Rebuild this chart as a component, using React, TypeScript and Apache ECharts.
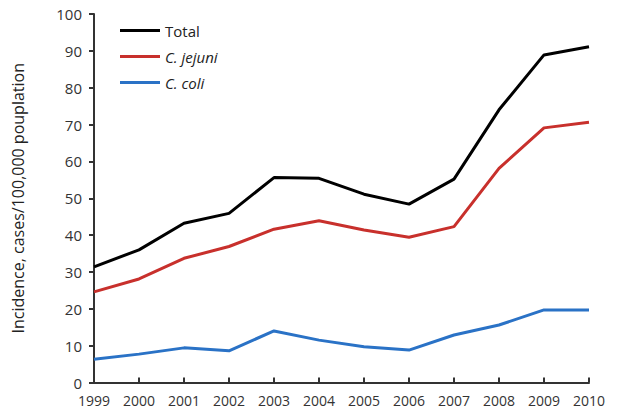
import React, { useEffect, useRef } from "react";
import * as echarts from "echarts";

const years = ["1999","2000","2001","2002","2003","2004","2005","2006","2007","2008","2009","2010"];
const total = [31.4, 36.0, 43.2, 45.9, 55.6, 55.4, 51.1, 48.4, 55.2, 74.0, 88.9, 91.1];
const jejuni = [24.6, 28.1, 33.7, 36.9, 41.6, 43.9, 41.4, 39.4, 42.3, 58.1, 69.1, 70.6];
const coli = [6.3, 7.7, 9.4, 8.6, 14.0, 11.5, 9.7, 8.8, 12.9, 15.6, 19.7, 19.7];
const seriesNames = ["Total", "C. jejuni", "C. coli"];
const colors = ["#000000", "#c8302c", "#2a72c6"];

export default function App() {
  const ref = useRef<HTMLDivElement>(null);
  useEffect(() => {
    document.body.style.margin = "0";
    const chart = echarts.init(ref.current!, null, { renderer: "svg" });
    const font = "'Open Sans', 'Liberation Sans', sans-serif";
    const data = [total, jejuni, coli];
    chart.setOption({
      animation: false,
      textStyle: { fontFamily: font },
      grid: { left: 94, right: 31, top: 14, bottom: 30.5 },
      legend: {
        orient: "vertical",
        left: 115,
        top: 18,
        itemWidth: 40,
        itemHeight: 3,
        itemGap: 11,
        icon: "rect",
        data: seriesNames,
        formatter: (n: string) => (n === "Total" ? "{n|" + n + "}" : "{i|" + n + "}"),
        textStyle: {
          fontFamily: font,
          fontSize: 15,
          color: "#222",
          rich: {
            n: { fontSize: 15, fontFamily: font, color: "#222" },
            i: { fontSize: 15, fontFamily: font, fontStyle: "italic", color: "#222" },
          },
        },
      },
      xAxis: {
        type: "category",
        data: years,
        boundaryGap: false,
        axisLine: { lineStyle: { color: "#333", width: 2 } },
        axisTick: { inside: true, length: 5, lineStyle: { color: "#333", width: 2 } },
        axisLabel: { color: "#333", fontSize: 14, margin: 11, fontFamily: font },
      },
      yAxis: {
        type: "value",
        min: 0,
        max: 100,
        interval: 10,
        name: "Incidence, cases/100,000 pouplation",
        nameLocation: "middle",
        nameGap: 68,
        nameTextStyle: { fontSize: 16, color: "#222", fontFamily: font },
        splitLine: { show: false },
        axisLine: { show: true, lineStyle: { color: "#333", width: 2 } },
        axisTick: { show: true, length: 5, lineStyle: { color: "#333", width: 2 } },
        axisLabel: { color: "#333", fontSize: 15, margin: 12, fontFamily: font },
      },
      series: seriesNames.map((name, i) => ({
        name,
        type: "line",
        data: data[i],
        symbol: "none",
        color: colors[i],
        lineStyle: { color: colors[i], width: 3 },
      })),
    });
    return () => chart.dispose();
  }, []);
  return <div ref={ref} style={{ width: 620, height: 413 }} />;
}
